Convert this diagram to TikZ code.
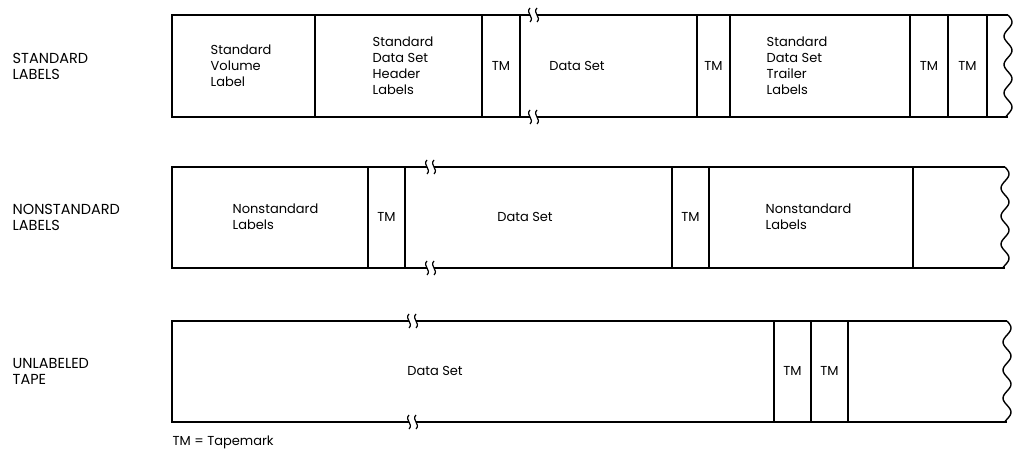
\documentclass[tikz,border=0pt]{standalone}
\usepackage{fontspec}
\setmainfont{Poppins}
\begin{document}
\begin{tikzpicture}[x=1pt,y=-1pt,line width=1.4pt,
  txt/.style={font=\fontsize{13}{16}\selectfont,align=left,inner sep=0pt},
  ttl/.style={font=\fontsize{14.5}{16}\selectfont,align=left,inner sep=0pt,anchor=west},
  brk/.pic={\draw[line width=1.2pt] (-3,-7) .. controls (-8,-2) and (2,2) .. (-3,7);
            \draw[line width=1.2pt] (4,-7) .. controls (-1,-2) and (9,2) .. (4,7);}]
\useasboundingbox (0,0) rectangle (1016,452);
% ---------- Row 1
\coordinate (r1tl) at (172,15); \coordinate (r1bl) at (172,117);
\draw (530,15) -- (r1tl) -- (r1bl) -- (530,117);
\draw (537,15) -- (1008,15);
\draw (537,117) -- (1008,117);
\pic at (533,15) {brk}; \pic at (533,117) {brk};
\draw plot[smooth,domain=0:1,samples=60] ({1008+4*sin(\x*3.6*360)},{15+\x*102});
\foreach \x in {315,482,520,697,730,910,948,987} \draw (\x,15) -- (\x,117);
\node[txt,anchor=west] (svl) at (210,66) {Standard\\Volume\\Label};
\node[txt,anchor=west] (sdh) at (372,66) {Standard\\Data Set\\Header\\Labels};
\node[txt] (tm1) at (501,66) {TM};
\node[txt] (ds1) at (577,66) {Data Set};
\node[txt] (tm2) at (713.5,66) {TM};
\node[txt,anchor=west] (sdt) at (766,66) {Standard\\Data Set\\Trailer\\Labels};
\node[txt] (tm3) at (929,66) {TM};
\node[txt] (tm4) at (967.5,66) {TM};
\node[ttl] (t1) at (12,66) {STANDARD\\LABELS};
% ---------- Row 2
\coordinate (r2tl) at (172,167); \coordinate (r2bl) at (172,268);
\draw (427,167) -- (r2tl) -- (r2bl) -- (427,268);
\draw (434,167) -- (1005,167);
\draw (434,268) -- (1005,268);
\pic at (430,167) {brk}; \pic at (430,268) {brk};
\draw plot[smooth,domain=0:1,samples=60] ({1005+4*sin(\x*3.6*360)},{167+\x*101});
\foreach \x in {368,405,672,709,913} \draw (\x,167) -- (\x,268);
\node[txt,anchor=west] (nl1) at (232,217) {Nonstandard\\Labels};
\node[txt] (tm5) at (386.5,217) {TM};
\node[txt] (ds2) at (525,217) {Data Set};
\node[txt] (tm6) at (690.5,217) {TM};
\node[txt,anchor=west] (nl2) at (765,217) {Nonstandard\\Labels};
\node[ttl] (t2) at (12,217) {NONSTANDARD\\LABELS};
% ---------- Row 3
\coordinate (r3tl) at (172,321); \coordinate (r3bl) at (172,422);
\draw (409,321) -- (r3tl) -- (r3bl) -- (409,422);
\draw (416,321) -- (1007,321);
\draw (416,422) -- (1007,422);
\pic at (412,321) {brk}; \pic at (412,422) {brk};
\draw plot[smooth,domain=0:1,samples=60] ({1007+4*sin(\x*3.6*360)},{321+\x*101});
\foreach \x in {774,811,848} \draw (\x,321) -- (\x,422);
\node[txt] (ds3) at (435,371) {Data Set};
\node[txt] (tm7) at (792.5,371) {TM};
\node[txt] (tm8) at (829.5,371) {TM};
\node[ttl] (t3) at (12,371) {UNLABELED\\TAPE};
\node[txt,anchor=west] (key) at (172,442) {TM = Tapemark};
\end{tikzpicture}
\end{document}
